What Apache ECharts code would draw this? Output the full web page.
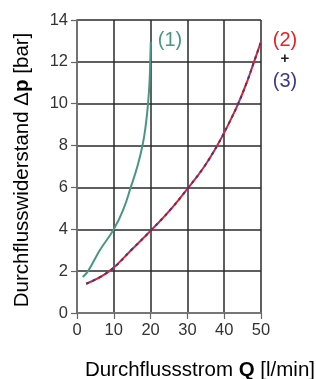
<!DOCTYPE html>
<html>
<head>
<meta charset="utf-8">
<script src="https://cdn.jsdelivr.net/npm/echarts@6/dist/echarts.min.js"></script>
<style>
  html, body { margin: 0; padding: 0; background: #fff; }
  #chart { width: 316px; height: 379px; }
</style>
</head>
<body>
<div id="chart"></div>
<script>
// Kurve (1)
const curve1 = [
  [1.55, 1.72], [3.0, 2], [6.2, 3], [10, 4], [12.7, 5], [14.6, 6], [16.4, 7],
  [17.8, 8], [18.7, 9], [19.3, 10], [19.7, 11], [19.9, 12], [20.05, 12.96]
]
// Kurve (2) + (3)
const curve23 = [
  [2.5, 1.4], [8.8, 2], [14.7, 3], [20.4, 4], [25.7, 5], [30.3, 6], [34.6, 7],
  [38.1, 8], [41.1, 9], [43.8, 10], [46.1, 11], [48.1, 12], [50, 12.96]
]
const xTicks = [0, 10, 20, 30, 40, 50]
const yTicks = [0, 2, 4, 6, 8, 10, 12, 14]

const font = '"Liberation Sans", Arial, sans-serif'
const textColor = '#333'
const gridColor = '#2a2a2a'
const nameRich = {
  a: { fontSize: 20.5, color: textColor, fontFamily: font },
  b: { fontSize: 20.5, color: textColor, fontFamily: font, fontWeight: 'bold' }
}

const myChart = echarts.init(document.getElementById('chart'), null, { renderer: 'canvas' })

const lineBase = {
  type: 'line',
  smooth: 0.45,
  showSymbol: false,
  silent: true
}

const option = {
  animation: false,
  grid: { left: 77, right: 55, top: 20, bottom: 66, containLabel: false },
  xAxis: {
    type: 'value',
    min: xTicks[0],
    max: xTicks[xTicks.length - 1],
    interval: 10,
    axisLine: { show: true, onZero: false, lineStyle: { color: '#777', width: 1.8 } },
    axisTick: { show: true, length: 6, lineStyle: { color: '#666', width: 1.2 } },
    axisLabel: { color: textColor, fontSize: 16.5, fontFamily: font, margin: 9 },
    splitLine: { show: true, lineStyle: { color: gridColor, width: 1.5 } }
  },
  yAxis: {
    type: 'value',
    min: yTicks[0],
    max: yTicks[yTicks.length - 1],
    interval: 2,
    axisLine: { show: true, lineStyle: { color: '#777', width: 1.8 } },
    axisTick: { show: true, length: 6, lineStyle: { color: '#666', width: 1.2 } },
    axisLabel: { color: textColor, fontSize: 16.5, fontFamily: font, margin: 9 },
    splitLine: { show: true, lineStyle: { color: gridColor, width: 1.5 } }
  },
  series: [
    {
      ...lineBase,
      name: '(1)',
      data: curve1,
      lineStyle: { color: '#4a9682', width: 2 },
      z: 3
    },
    {
      ...lineBase,
      name: '(2)',
      data: curve23,
      lineStyle: { color: '#e8202a', width: 2 },
      z: 3
    },
    {
      ...lineBase,
      name: '(3)',
      data: curve23,
      lineStyle: { color: '#3b3a8e', width: 2, type: [3, 4] },
      z: 4
    }
  ],
  graphic: [
    {
      type: 'text', x: 315, y: 370,
      style: { text: '{a|Durchflussstrom }{b|Q}{a| [l/min]}', rich: nameRich, align: 'right', verticalAlign: 'middle' }
    },
    {
      type: 'text', x: 22, y: 170, rotation: Math.PI / 2,
      style: { text: '{a|Durchflusswiderstand Δ}{b|p}{a| [bar]}', rich: nameRich, align: 'center', verticalAlign: 'middle' }
    },
    { type: 'text', x: 170, y: 40, style: { text: '(1)', fill: '#4a9682', font: '20px ' + font, align: 'center', verticalAlign: 'middle' } },
    { type: 'text', x: 285, y: 40, style: { text: '(2)', fill: '#e8202a', font: '20px ' + font, align: 'center', verticalAlign: 'middle' } },
    { type: 'text', x: 285, y: 59, style: { text: '+', fill: '#222', font: 'bold 15px ' + font, align: 'center', verticalAlign: 'middle' } },
    { type: 'text', x: 285, y: 81, style: { text: '(3)', fill: '#3b3a8e', font: '20px ' + font, align: 'center', verticalAlign: 'middle' } }
  ]
}

myChart.setOption(option)
</script>
</body>
</html>
